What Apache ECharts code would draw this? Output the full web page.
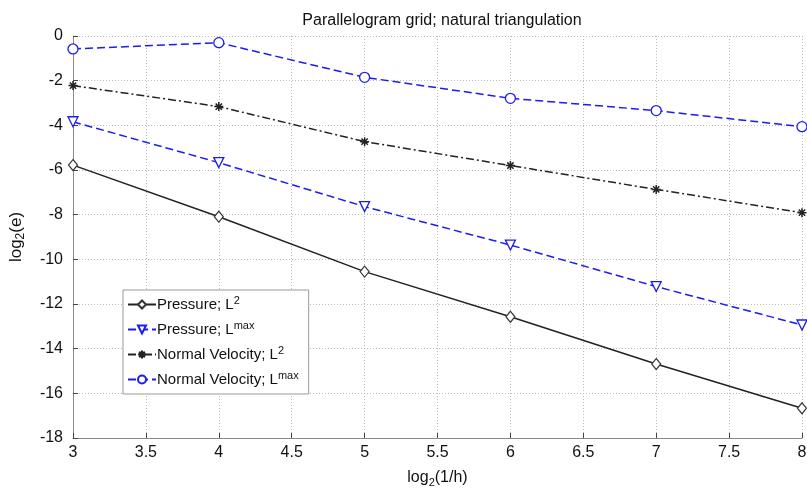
<!DOCTYPE html>
<html>
<head>
<meta charset="utf-8">
<style>
  html, body { margin: 0; padding: 0; background: #fff; }
  #chart { width: 807px; height: 490px; }
</style>
<script src="https://cdn.jsdelivr.net/npm/echarts@6/dist/echarts.min.js"></script>
</head>
<body>
<div id="chart"></div>
<script>
var xVals = [3, 4, 5, 6, 7, 8];
var pressureL2 = [-5.78, -8.09, -10.55, -12.57, -14.69, -16.67];
var pressureLmax = [-3.84, -5.67, -7.64, -9.36, -11.22, -12.94];
var velocityL2 = [-2.22, -3.16, -4.73, -5.8, -6.87, -7.91];
var velocityLmax = [-0.58, -0.3, -1.85, -2.79, -3.34, -4.06];

var seriesNames = [
    'Pressure; L{sup|2}',
    'Pressure; L{sup|max}',
    'Normal Velocity; L{sup|2}',
    'Normal Velocity; L{sup|max}'
];

var asterisk = 'path://M5,0L5,10M0,5L10,5M1.5,1.5L8.5,8.5M8.5,1.5L1.5,8.5';

function pairs(vals) {
    return xVals.map(function (x, i) { return [x, vals[i]]; });
}

var chart = echarts.init(document.getElementById('chart'));
var option = {
    animation: false,
    backgroundColor: '#fff',
    textStyle: { fontFamily: 'Liberation Sans, Arial, sans-serif' },
    title: {
        text: 'Parallelogram grid; natural triangulation',
        left: 437,
        textAlign: 'center',
        top: 8,
        textStyle: { fontSize: 16, fontWeight: 'normal', color: '#111' }
    },
    grid: { left: 73, right: 5, top: 36, bottom: 52, containLabel: false, outerBoundsMode: 'none' },
    legend: {
        orient: 'vertical',
        left: 123,
        top: 290,
        padding: [5, 10, 5, 4],
        itemGap: 6,
        itemWidth: 28,
        itemHeight: 10,
        backgroundColor: '#fff',
        borderColor: '#999',
        borderWidth: 1,
        borderRadius: 0,
        data: seriesNames,
        textStyle: {
            fontSize: 15,
            color: '#111',
            lineHeight: 19,
            padding: [0, 0, 0, -4],
            rich: {
                sup: { fontSize: 11, verticalAlign: 'top', lineHeight: 19, padding: [0, 0, 7, 0], color: '#111' }
            }
        }
    },
    xAxis: {
        type: 'value',
        min: 3,
        max: 8,
        interval: 0.5,
        name: 'log{sub|2}(1/h)',
        nameLocation: 'middle',
        nameGap: 30,
        nameTextStyle: {
            fontSize: 16,
            color: '#111',
            rich: { sub: { fontSize: 11, verticalAlign: 'bottom', padding: [9, 0, 0, 0], color: '#111' } }
        },
        axisLine: { onZero: false, lineStyle: { color: '#888' } },
        axisTick: { inside: true, length: 5, lineStyle: { color: '#444' } },
        axisLabel: { fontSize: 16, color: '#111', margin: 7 },
        splitLine: { lineStyle: { color: '#bbb', type: [1, 2] } }
    },
    yAxis: {
        type: 'value',
        min: -18,
        max: 0,
        interval: 2,
        name: 'log{sub|2}(e)',
        nameLocation: 'middle',
        nameGap: 46,
        nameTextStyle: {
            fontSize: 17,
            color: '#111',
            rich: { sub: { fontSize: 12, verticalAlign: 'bottom', padding: [9, 0, 0, 0], color: '#111' } }
        },
        axisLine: { show: true, onZero: false, lineStyle: { color: '#888' } },
        axisTick: { show: true, inside: true, length: 5, lineStyle: { color: '#444' } },
        axisLabel: { fontSize: 16, color: '#111', margin: 10 },
        splitLine: { lineStyle: { color: '#bbb', type: [1, 2] } }
    },
    series: [
        {
            name: seriesNames[0],
            type: 'line',
            data: pairs(pressureL2),
            symbol: 'diamond',
            symbolSize: [9, 11],
            lineStyle: { color: '#222', width: 1.5, type: 'solid' },
            itemStyle: { color: '#fff', borderColor: '#333', borderWidth: 1.2 }
        },
        {
            name: seriesNames[1],
            type: 'line',
            data: pairs(pressureLmax),
            symbol: 'triangle',
            symbolRotate: 180,
            symbolSize: 10,
            lineStyle: { color: '#1c1cf0', width: 1.5, type: [8, 4] },
            itemStyle: { color: '#fff', borderColor: '#1c1cf0', borderWidth: 1.3 }
        },
        {
            name: seriesNames[2],
            type: 'line',
            data: pairs(velocityL2),
            symbol: asterisk,
            symbolSize: 9,
            lineStyle: { color: '#222', width: 1.5, type: [8, 3, 2, 3] },
            itemStyle: { color: '#222', borderColor: '#222', borderWidth: 1.5 }
        },
        {
            name: seriesNames[3],
            type: 'line',
            data: pairs(velocityLmax),
            symbol: 'circle',
            symbolSize: 10,
            lineStyle: { color: '#1c1cf0', width: 1.5, type: [8, 4] },
            itemStyle: { color: '#fff', borderColor: '#1c1cf0', borderWidth: 1.3 }
        }
    ]
};
chart.setOption(option);
window.onresize = chart.resize;
</script>
</body>
</html>
